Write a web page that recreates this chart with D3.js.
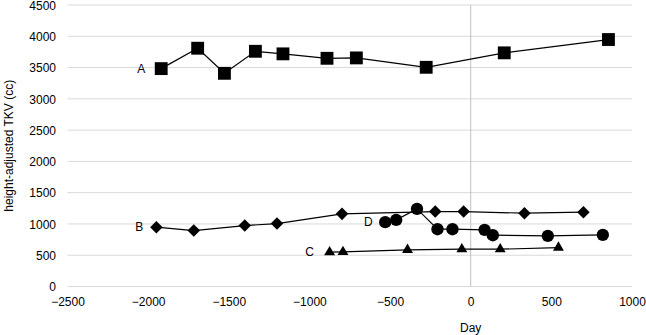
<!DOCTYPE html>
<html><head><meta charset="utf-8">
<script src="https://cdn.jsdelivr.net/npm/d3@7/dist/d3.min.js"></script>
<style>body{margin:0;background:#fff}svg{display:block}text{font-family:"Liberation Sans",Arial,sans-serif}</style>
</head><body>
<script>
const xTicks = [-2500,-2000,-1500,-1000,-500,0,500,1000];
const yTicks = [0,500,1000,1500,2000,2500,3000,3500,4000,4500];
const seriesA_x = [-1919,-1693,-1527,-1335,-1164,-891,-709,-276,208,854];
const seriesA_y = [3483,3809,3408,3760,3719,3648,3654,3504,3735,3948];
const seriesB_x = [-1949,-1717,-1401,-1201,-798,-220,-44,333,699];
const seriesB_y = [948,894,974,1006,1161,1198,1198,1172,1188];
const seriesC_x = [-875,-792,-392,-55,183,544];
const seriesC_y = [548,552,585,596,596,621];
const seriesD_x = [-530,-462,-333,-206,-113,86,137,478,819];
const seriesD_y = [1028,1065,1241,916,916,905,820,809,825];
const seriesNames = ["A","B","C","D"];

const W=646,H=335;
const svg=d3.select("body").append("svg").attr("width",W).attr("height",H);
const x=d3.scaleLinear().domain([-2500,1000]).range([67.5,632]);
const y=d3.scaleLinear().domain([0,4500]).range([286.5,5]);

// gridlines
svg.append("g").selectAll("line").data(yTicks).join("line")
 .attr("x1",x(-2500)).attr("x2",x(1000)).attr("y1",d=>y(d)).attr("y2",d=>y(d))
 .attr("stroke","#d9d9d9").attr("stroke-width",1);
// vertical zero line
svg.append("line").attr("x1",x(0)).attr("x2",x(0)).attr("y1",y(4500)).attr("y2",y(0))
 .attr("stroke","#bfbfbf").attr("stroke-width",1);

const yAxis=d3.axisLeft(y).tickValues(yTicks).tickSize(0).tickPadding(0).tickFormat(d3.format("d"));
const gy=svg.append("g").attr("transform","translate(56,0)").call(yAxis);
gy.select(".domain").remove();
gy.selectAll("text").attr("font-size",12).attr("fill","#000").attr("dy","0.35em");

const xAxis=d3.axisBottom(x).tickValues(xTicks).tickSize(0).tickPadding(0).tickFormat(d3.format("d"));
const gx=svg.append("g").attr("transform","translate(0,297)").call(xAxis);
gx.select(".domain").remove();
gx.selectAll("text").attr("font-size",12).attr("fill","#000").attr("dy","0.71em");

svg.append("text").attr("x",x(0)).attr("y",332).attr("text-anchor","middle").attr("font-size",12).text("Day");
svg.append("text").attr("transform","translate(13,"+y(2250)+") rotate(-90)").attr("text-anchor","middle")
 .attr("font-size",12).text("height-adjusted TKV (cc)");

const line=d3.line().x(d=>x(d[0])).y(d=>y(d[1]));
const zip=(a,b)=>a.map((v,i)=>[v,b[i]]);
const series=[
 {name:"A",data:zip(seriesA_x,seriesA_y),sym:d3.symbolSquare,size:165},
 {name:"B",data:zip(seriesB_x,seriesB_y),sym:d3.symbolDiamond2,size:100},
 {name:"C",data:zip(seriesC_x,seriesC_y),sym:d3.symbolTriangle2,size:85},
 {name:"D",data:zip(seriesD_x,seriesD_y),sym:d3.symbolCircle,size:120}
];
series.forEach(s=>{
 svg.append("path").datum(s.data).attr("d",line).attr("fill","none").attr("stroke","#000").attr("stroke-width",1.2);
});
series.forEach(s=>{
 svg.append("g").selectAll("path").data(s.data).join("path")
  .attr("transform",d=>`translate(${x(d[0])},${y(d[1])})`)
  .attr("d",d3.symbol().type(s.sym).size(s.size)).attr("fill","#000");
});
// series labels
const labelPos={A:[seriesA_x[0],seriesA_y[0]],B:[seriesB_x[0],seriesB_y[0]],C:[seriesC_x[0],seriesC_y[0]],D:[seriesD_x[0],seriesD_y[0]]};
const labelOff={A:-20,B:-17,C:-20,D:-17};
seriesNames.forEach(n=>{
 svg.append("text").attr("x",x(labelPos[n][0])+labelOff[n]).attr("y",y(labelPos[n][1])).attr("dy","0.35em")
  .attr("text-anchor","middle").attr("font-size",12).text(n);
});
</script>
</body></html>
